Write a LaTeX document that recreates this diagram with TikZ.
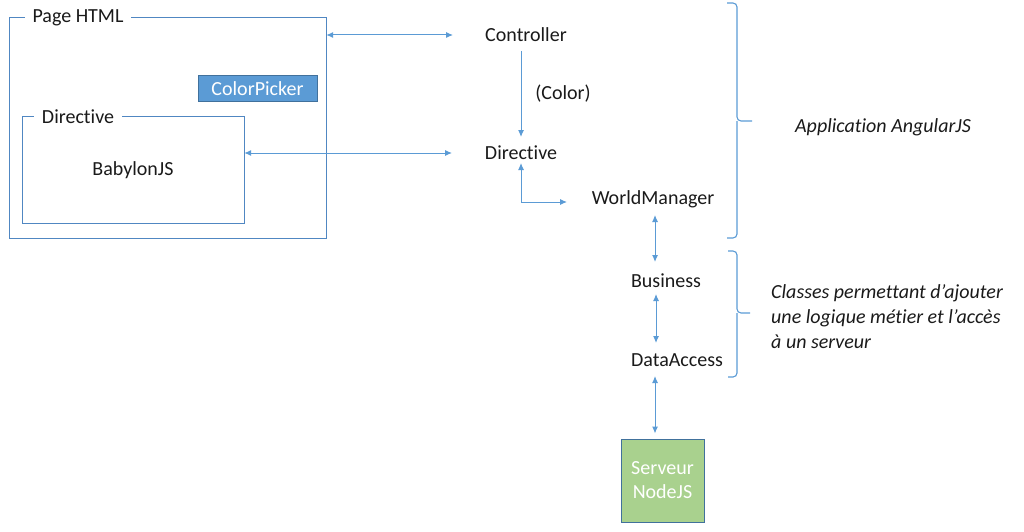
\documentclass[tikz,border=0pt]{standalone}
\usepackage{fontspec}
\setmainfont{Carlito}[Ligatures=NoCommon]
\usetikzlibrary{arrows.meta}
\definecolor{arrblue}{HTML}{5B9BD5}
\definecolor{frameblue}{HTML}{5087C2}
\definecolor{boxblue}{HTML}{41719C}
\definecolor{cpfill}{HTML}{5B9BD5}
\definecolor{srvfill}{HTML}{A9D18E}
\definecolor{txt}{HTML}{1A1A1A}
\tikzset{
  frame/.style={draw=frameblue, line width=1.1pt},
  lbl/.style={inner sep=0pt, text=txt, font=\fontsize{20}{24}\selectfont},
  title/.style={lbl, fill=white, inner xsep=8pt, inner ysep=2pt},
  arr/.style={draw=arrblue, line width=1pt, {Latex[length=7pt,width=6pt]}-{Latex[length=7pt,width=6pt]}},
  arrone/.style={draw=arrblue, line width=1pt, -{Latex[length=7pt,width=6pt]}},
  filledbox/.style={draw=boxblue, line width=1pt, text=white, font=\fontsize{20}{24}\selectfont, align=center, inner sep=0pt},
  bracestyle/.style={draw=arrblue, line width=1.1pt, rounded corners=4pt},
}
\begin{document}
\begin{tikzpicture}[x=1pt, y=-1pt]
\useasboundingbox (0,0) rectangle (1024,532);
% frames (invisible nodes used as anchors)
\node[minimum width=316pt, minimum height=220pt, inner sep=0pt] (page) at (168,128) {};
\node[minimum width=221pt, minimum height=106pt, inner sep=0pt] (inner) at (133.5,170) {};
\draw[frame] (page.north west) rectangle (page.south east);
\draw[frame] (inner.north west) rectangle (inner.south east);
\node[title] (pagetitle) at (78,18) {Page HTML};
\node[title] (innertitle) at (78,117) {Directive};
\node[lbl] (babylon) at (133,170) {BabylonJS};
\node[filledbox, fill=cpfill, minimum width=119pt, minimum height=26pt] (cp) at (257.5,89) {ColorPicker};

% right column
\node[lbl] (ctrl) at (526,35) {Controller};
\node[lbl] (color) at (563,94) {(Color)};
\node[lbl] (dir) at (521,153) {Directive};
\node[lbl] (wm) at (653,199) {WorldManager};
\node[lbl] (bus) at (666,281) {Business};
\node[lbl] (da) at (677,360) {DataAccess};
\node[filledbox, fill=srvfill, minimum width=83pt, minimum height=83pt] (srv) at (662.5,480.5) {Serveur\\NodeJS};

% connectors
\draw[arr] (page.east |- ctrl.center) -- ([xshift=-73pt]ctrl.center);
\draw[arrone] ([yshift=-16pt]ctrl.center -| dir.center) -- ([yshift=16pt]dir.center);
\draw[arr] (inner.east |- dir.center) -- ([xshift=-69pt]dir.center);
\draw[arr] ([yshift=-10pt]dir.center) |- ([shift={(-86pt,-3pt)}]wm.center);
\draw[arr] ([shift={(2pt,-16pt)}]wm.center) -- ([shift={(-11pt,19pt)}]bus.center);
\draw[arr] ([shift={(-10pt,-13pt)}]bus.center) -- ([shift={(-21pt,17pt)}]da.center);
\draw[arr] ([shift={(-22pt,-16pt)}]da.center) -- ([xshift=-7.5pt,yshift=5pt]srv.north);

% braces
\draw[bracestyle] (727,3) -| (737,121) -- (752,121);
\draw[bracestyle] (727,238) -| (737,121);
\draw[bracestyle] (728,251) -| (737,313) -- (750,313);
\draw[bracestyle] (728,377) -| (737,313);

\node[lbl, font=\fontsize{20}{24}\selectfont\itshape] (app) at (883,127) {Application AngularJS};
\node[lbl, font=\fontsize{20}{25}\selectfont\itshape, anchor=west, align=left] (classes) at (771,317) {Classes permettant d’ajouter\\une logique métier et l’accès\\à un serveur};
\end{tikzpicture}
\end{document}
